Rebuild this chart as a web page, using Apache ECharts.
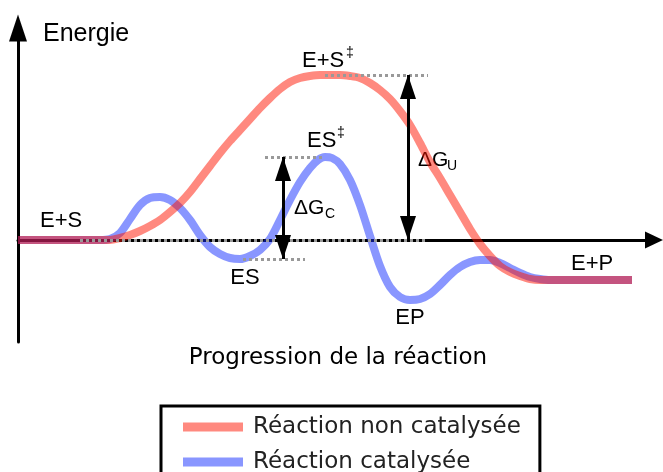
<!DOCTYPE html>
<html>
<head>
<meta charset="utf-8">
<script src="https://cdn.jsdelivr.net/npm/echarts@6/dist/echarts.min.js"></script>
<style>
html, body { margin: 0; padding: 0; background: #fff; }
#main { width: 663px; height: 472px; }
</style>
</head>
<body>
<div id="main"></div>
<script>
// reaction progress (x) and energy (y), baseline E+S = 0
var redProgress = [0, 82, 92, 102, 112, 122, 132, 142, 152, 162, 172, 182, 192, 202, 212, 222, 232, 242, 252, 262, 272, 282, 292, 302, 312, 322, 332, 342, 352, 362, 372, 382, 392, 402, 412, 422, 432, 442, 452, 462, 472, 482, 492, 502, 512, 522, 614];
var redEnergy   = [0, 0, 0, 2, 5, 9, 14, 20, 28, 37, 48, 61, 74, 87, 99, 110, 121, 132, 142, 151, 158, 162, 164, 165, 165, 165, 164, 162, 157, 150, 141, 129, 115, 97, 78, 62, 45, 28, 11, -4, -16, -26, -32, -36, -39, -40, -40];

var blueProgress = [0, 82, 92, 102, 112, 122, 132, 142, 152, 162, 172, 182, 192, 202, 212, 222, 232, 242, 252, 262, 272, 282, 292, 300, 307, 314, 322, 332, 342, 352, 362, 372, 382, 392, 402, 412, 422, 432, 442, 452, 462, 472, 482, 492, 502, 512, 522, 532, 614];
var blueEnergy   = [0, 0, 1, 7, 21, 35, 42, 43, 40, 32, 20, 5, -7, -14, -18, -19, -16, -10, 1, 20, 40, 58, 72, 80, 83, 82, 76, 60, 35, 4, -26, -47, -57, -60, -59, -54, -45, -35, -27, -22, -20, -20, -23, -28, -33, -37, -39, -40, -40];

var seriesNames = ['Réaction non catalysée', 'Réaction catalysée'];

var redColor = 'rgba(255, 20, 0, 0.5)';
var blueColor = 'rgba(20, 45, 255, 0.5)';

function pairs(xs, ys) {
	return xs.map(function(x, i) { return [x, ys[i]]; });
}

var peakU = Math.max.apply(null, redEnergy);
var peakC = Math.max.apply(null, blueEnergy);
var esLevel = Math.min.apply(null, blueEnergy.slice(0, 18));

var chart = echarts.init(document.getElementById('main'));

function txt(x, y, s, size, family, align) {
	return {
		type: 'text', x: x, y: y, silent: true,
		style: {
			text: s, fill: '#000',
			font: size + 'px "' + family + '"',
			align: align || 'left', verticalAlign: 'middle',
			textAlign: align || 'left', textVerticalAlign: 'middle'
		}
	};
}

var dotted = { color: '#999', width: 3, type: [3, 3] };
var lab = 'Liberation Sans';

var option = {
	animation: false,
	grid: { left: 18, top: 28, right: 9, bottom: 130 },
	xAxis: {
		type: 'value', min: 0, max: 636,
		axisLine: {
			onZero: true,
			lineStyle: { color: '#000', width: 3 },
			symbol: ['none', 'triangle'],
			symbolSize: [17, 18]
		},
		axisTick: { show: false },
		axisLabel: { show: false },
		splitLine: { show: false }
	},
	yAxis: {
		type: 'value', min: -102, max: 212,
		axisLine: {
			show: true, onZero: false,
			lineStyle: { color: '#000', width: 3 },
			symbol: ['none', 'triangle'],
			symbolSize: [18, 27]
		},
		axisTick: { show: false },
		axisLabel: { show: false },
		splitLine: { show: false }
	},
	legend: {
		data: seriesNames,
		orient: 'vertical',
		left: 161, top: 406, height: 100,
		icon: 'rect',
		itemWidth: 60, itemHeight: 9, itemGap: 9,
		padding: [8, 19, 10, 22],
		borderColor: '#000', borderWidth: 3,
		selectedMode: false,
		textStyle: { fontFamily: 'DejaVu Sans', fontSize: 23, color: '#222', lineHeight: 26, padding: [0, 0, 0, 5] }
	},
	graphic: [
		txt(43, 34, 'Energie', 25, lab),
		txt(302, 61, 'E+S', 22, lab),
		txt(346, 53, '‡', 14, lab),
		txt(307, 141, 'ES', 22, lab),
		txt(337, 133, '‡', 14, lab),
		txt(418, 160, 'ΔG', 21, lab),
		txt(447, 166, 'U', 14, lab),
		txt(294, 208, 'ΔG', 21, lab),
		txt(325, 214, 'C', 14, lab),
		txt(40, 221, 'E+S', 22, lab),
		txt(245, 278, 'ES', 22, lab, 'center'),
		txt(410, 318, 'EP', 22, lab, 'center'),
		txt(571, 264, 'E+P', 22, lab),
		txt(338, 358, 'Progression de la réaction', 23, 'DejaVu Sans', 'center')
	],
	series: [
		{
			name: seriesNames[1], type: 'line', z: 2,
			data: pairs(blueProgress, blueEnergy),
			smooth: 0.3, showSymbol: false,
			lineStyle: { color: blueColor, width: 8 },
			itemStyle: { color: blueColor }
		},
		{
			name: seriesNames[0], type: 'line', z: 3,
			data: pairs(redProgress, redEnergy),
			smooth: 0.3, showSymbol: false,
			lineStyle: { color: redColor, width: 8 },
			itemStyle: { color: redColor }
		},
		{
			name: 'guides', type: 'line', z: 4, data: [],
			markLine: {
				silent: true, symbol: 'none', animation: false,
				label: { show: false },
				lineStyle: dotted,
				data: [
					[{ coord: [62, 0] }, { coord: [410, 0] }],
					[{ coord: [307, peakU] }, { coord: [410, peakU] }],
					[{ coord: [247, peakC] }, { coord: [307, peakC] }],
					[{ coord: [225, esLevel] }, { coord: [287, esLevel] }]
				]
			}
		},
		{
			name: 'arrows', type: 'line', z: 5, data: [],
			markLine: {
				silent: true, animation: false,
				symbol: ['triangle', 'triangle'],
				symbolSize: [16, 24],
				symbolOffset: [[0, 12], [0, 12]],
				label: { show: false },
				lineStyle: { color: '#000', width: 3, type: 'solid' },
				data: [
					[{ coord: [265, peakC] }, { coord: [265, esLevel] }],
					[{ coord: [390, peakU] }, { coord: [390, 0] }]
				]
			}
		}
	]
};
chart.setOption(option);
</script>
</body>
</html>
